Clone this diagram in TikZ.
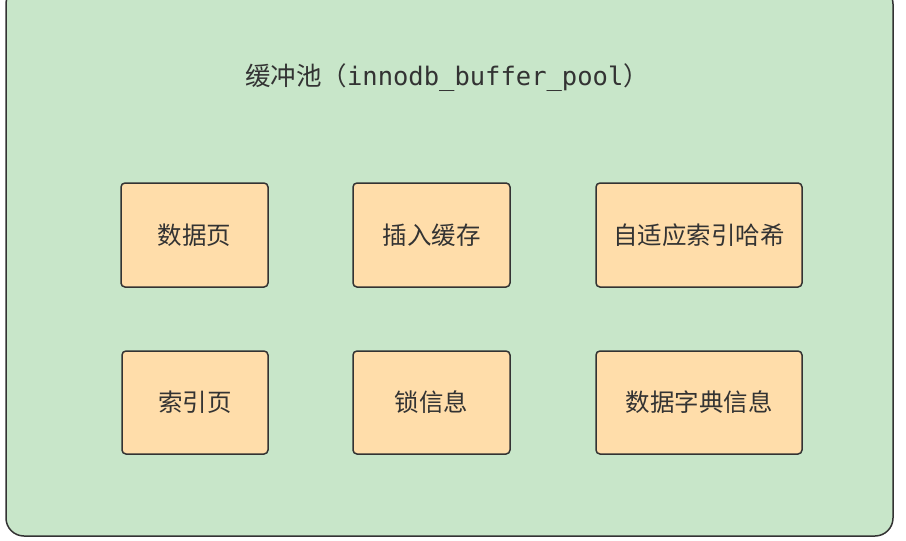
\documentclass[tikz,border=0pt]{standalone}
\usepackage{fontspec}
\setmainfont{Noto Sans CJK SC}
\newfontfamily\monofont{DejaVu Sans Mono}
\definecolor{poolgreen}{RGB}{200,230,201}
\definecolor{pageorange}{RGB}{255,221,170}
\definecolor{edgegray}{RGB}{51,51,51}
\begin{document}
\begin{tikzpicture}[x=1pt,y=-1pt,
		pagebox/.style={draw=edgegray,fill=pageorange,line width=1.5pt,rounded corners=4pt,
inner sep=0pt,font=\fontsize{24.5}{28}\selectfont,text=edgegray}]
	\useasboundingbox (0,0) rectangle (906,541);
	\draw[draw=edgegray,fill=poolgreen,line width=1.5pt,rounded corners=18pt] (6,-14) rectangle (893,536);
	\node at (447,78) (title) [font=\fontsize{25.5}{30}\selectfont,text=edgegray] {缓冲池（{\monofont innodb\_buffer\_pool}）};
	\node at (194.5,235) (datapage) [pagebox,minimum width=147pt,minimum height=104pt] {数据页};
	\node at (431.5,235) (insertbuf) [pagebox,minimum width=157pt,minimum height=104pt] {插入缓存};
	\node at (699,235) (adahash) [pagebox,minimum width=206pt,minimum height=104pt] {自适应索引哈希};
	\node at (195,402.5) (indexpage) [pagebox,minimum width=146pt,minimum height=103pt] {索引页};
	\node at (431.5,402.5) (lockinfo) [pagebox,minimum width=157pt,minimum height=103pt] {锁信息};
	\node at (699,402.5) (dictinfo) [pagebox,minimum width=206pt,minimum height=103pt] {数据字典信息};
\end{tikzpicture}
\end{document}
